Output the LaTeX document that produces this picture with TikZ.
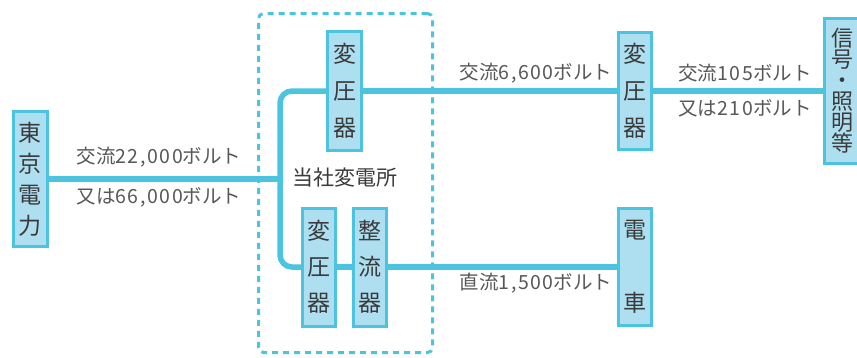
\documentclass[tikz,border=0pt]{standalone}
\usepackage{fontspec}
\setmainfont{Noto Sans CJK JP}
\usetikzlibrary{backgrounds}
\definecolor{wirec}{HTML}{4CC4E0}
\definecolor{boxfill}{HTML}{AEDFF1}
\definecolor{txt}{HTML}{3A3A3A}
\newcommand\dg[1]{{\addfontfeatures{LetterSpace=8}#1}}
\tikzset{
  unitbox/.style={draw=wirec, line width=3pt, fill=boxfill, inner sep=0pt, text=txt, align=center},
  wire/.style={draw=wirec, line width=5.5pt},
  lbl/.style={text=txt!85, inner sep=0pt, font=\fontsize{19.5}{22}\selectfont},
}
\begin{document}
\begin{tikzpicture}[x=1pt,y=1pt]
\useasboundingbox (0,0) rectangle (857,-357);
% dashed substation frame
\node[draw=wirec, line width=3pt, dash pattern=on 6pt off 5pt, rounded corners=5pt,
      minimum width=174pt, minimum height=339pt, inner sep=0pt] (sub) at (345.5,-183) {};
\node[text=txt, inner sep=0pt, font=\fontsize{21}{24}\selectfont] (subl) at (345,-178) {当社変電所};
% boxes
\node[unitbox, minimum width=34pt, minimum height=135pt, font=\fontsize{23}{31}\selectfont] (tepco) at (30.5,-179) {東\\京\\電\\力};
\node[unitbox, minimum width=34pt, minimum height=119pt, font=\fontsize{23}{37}\selectfont] (T1) at (344.5,-91) {変\\圧\\器};
\node[unitbox, minimum width=33pt, minimum height=118pt, font=\fontsize{23}{36}\selectfont] (T2) at (319,-267) {変\\圧\\器};
\node[unitbox, minimum width=33pt, minimum height=118pt, font=\fontsize{23}{36}\selectfont] (R) at (370,-267) {整\\流\\器};
\node[unitbox, minimum width=33pt, minimum height=117pt, font=\fontsize{23}{37}\selectfont] (T3) at (635,-91) {変\\圧\\器};
\node[unitbox, minimum width=33pt, minimum height=117pt, font=\fontsize{23}{73}\selectfont] (train) at (635,-267) {電\\車};
\node[unitbox, minimum width=35pt, minimum height=145pt, font=\fontsize{22}{21}\selectfont] (sig) at (842,-91) {信\\号\\・\\照\\明\\等};
% corners of the substation bus
\coordinate (cTop) at (280,-91);
\coordinate (cBot) at (280,-267);
\begin{scope}[on background layer]
  \draw[wire] (tepco.center) -- (tepco.center -| cTop);
  \draw[wire, rounded corners=12pt] (T1.center) -- (cTop) -- (cBot) -- (T2.center);
  \draw[wire] (T2.center) -- (R.center) -- (train.center);
  \draw[wire] (T1.center) -- (T3.center) -- (sig.center);
\end{scope}
% labels
\node[lbl] (l1) at (159,-157) {交流\dg{22,000}ボルト};
\node[lbl] (l2) at (159,-197) {又は\dg{66,000}ボルト};
\node[lbl] (l3) at (536,-73) {交流\dg{6,600}ボルト};
\node[lbl] (l4) at (745,-73) {交流\dg{105}ボルト};
\node[lbl] (l5) at (745,-108) {又は\dg{210}ボルト};
\node[lbl] (l6) at (536,-283) {直流\dg{1,500}ボルト};
\end{tikzpicture}
\end{document}
